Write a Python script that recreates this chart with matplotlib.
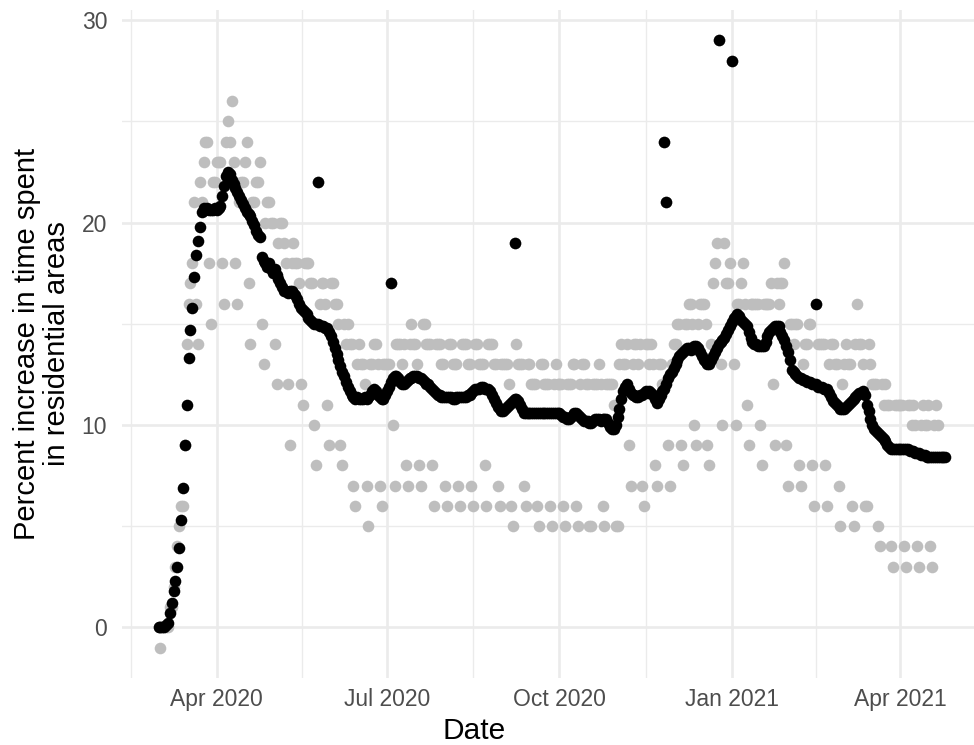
import datetime as dt
import matplotlib
matplotlib.use("Agg")
import matplotlib.pyplot as plt
import matplotlib.dates as mdates

# ---------------- data ----------------
start_date = dt.date(2020, 3, 1)

# daily raw values (grey), from 2020-03-01; weeks Mon..Sun
gray_pct = [
    0,
    -1, 0, 0, 0, 0, 1, 1,        # Mar 2
    2, 3, 4, 5, 6, 6, 9,         # Mar 9
    14, 16, 17, 18, 21, 16, 14,  # Mar 16
    22, 21, 23, 24, 24, 18, 15,  # Mar 23
    22, 22, 23, 23, 23, 18, 16,  # Mar 30
    24, 25, 24, 26, 23, 18, 16,  # Apr 6
    21, 22, 22, 23, 24, 17, 14,  # Apr 13
    21, 21, 22, 22, 23, 15, 13,  # Apr 20
    20, 21, 21, 20, 20, 14, 12,  # Apr 27
    19, 20, 20, 19, 18, 12, 9,   # May 4
    18, 19, 18, 18, 17, 12, 11,  # May 11
    18, 18, 18, 17, 17, 10, 8,   # May 18
    22, 16, 17, 17, 16, 11, 9,   # May 25
    17, 17, 16, 16, 15, 9, 8,    # Jun 1
    15, 14, 15, 14, 14, 7, 6,    # Jun 8
    13, 14, 13, 13, 12, 7, 5,    # Jun 15
    13, 13, 14, 14, 13, 7, 6,    # Jun 22
    13, 13, 13, 13, 17, 10, 7,   # Jun 29
    14, 14, 14, 13, 14, 8, 7,    # Jul 6
    14, 15, 14, 14, 13, 8, 7,    # Jul 13
    15, 15, 14, 14, 14, 8, 6,    # Jul 20
    14, 14, 14, 13, 13, 7, 6,    # Jul 27
    14, 14, 13, 13, 13, 7, 6,    # Aug 3
    14, 14, 14, 13, 13, 7, 6,    # Aug 10
    14, 14, 13, 13, 13, 8, 6,    # Aug 17
    14, 14, 14, 13, 13, 7, 6,    # Aug 24
    13, 13, 13, 13, 12, 6, 5,    # Aug 31
    19, 14, 13, 13, 13, 7, 6,    # Sep 7
    13, 13, 12, 12, 12, 6, 5,    # Sep 14
    13, 13, 12, 12, 12, 6, 5,    # Sep 21
    12, 13, 12, 12, 12, 6, 5,    # Sep 28
    12, 12, 12, 13, 13, 6, 5,    # Oct 5
    12, 13, 13, 12, 12, 5, 5,    # Oct 12
    12, 12, 12, 13, 12, 6, 5,    # Oct 19
    12, 12, 12, 12, 11, 5, 5,    # Oct 26
    13, 14, 13, 13, 14, 9, 7,    # Nov 2
    13, 14, 14, 13, 14, 7, 6,    # Nov 9
    14, 14, 13, 14, 13, 8, 7,    # Nov 16
    13, 13, 12, 24, 21, 9, 7,    # Nov 23
    13, 14, 14, 15, 15, 9, 8,    # Nov 30
    15, 15, 16, 16, 15, 10, 9,   # Dec 7
    15, 16, 16, 16, 15, 9, 8,    # Dec 14
    14, 17, 18, 19, 29, 13, 10,  # Dec 21
    19, 17, 17, 18, 28, 13, 10,  # Dec 28
    16, 16, 17, 18, 16, 11, 9,   # Jan 4
    16, 16, 16, 16, 16, 10, 8,   # Jan 11
    16, 16, 16, 16, 17, 12, 9,   # Jan 18
    17, 16, 17, 17, 18, 9, 7,    # Jan 25
    15, 15, 14, 15, 15, 8, 7,    # Feb 1
    13, 14, 14, 15, 15, 8, 6,    # Feb 8
    16, 14, 14, 14, 14, 8, 6,    # Feb 15
    13, 14, 14, 13, 13, 7, 5,    # Feb 22
    12, 13, 14, 13, 13, 6, 5,    # Mar 1
    14, 16, 14, 14, 13, 6, 6,    # Mar 8
    14, 13, 12, 12, 12, 5, 4,    # Mar 15
    12, 11, 12, 11, 11, 4, 3,    # Mar 22
    11, 11, 11, 11, 11, 4, 3,    # Mar 29
    11, 11, 10, 11, 10, 4, 3,    # Apr 5
    10, 11, 10, 10, 11, 4, 3,    # Apr 12
    10, 11, 10,                  # Apr 19
]

# smoothed series (black), from 2020-03-01
black_pct = [
    0.0,
    0.0, 0.0, 0.0, 0.1, 0.2, 0.7, 1.2,
    1.8, 2.3, 3.0, 3.9, 5.3, 6.9, 9.0,
    11.0, 13.3, 14.7, 15.8, 17.3, 18.4, 19.1,
    19.8, 20.5, 20.7, 20.6, 20.7, 20.6, 20.6,
    20.6, 20.7, 20.6, 20.7, 20.8, 21.3, 21.8,
    22.3, 22.5, 22.4, 22.1, 21.9, 21.7, 21.5,
    21.3, 21.1, 20.9, 20.7, 20.5, 20.4, 20.3,
    20.1, 19.9, 19.6, 19.4, 19.3, 18.3, 18.1,
    18.0, 17.8, 18.0, 17.7, 17.5, 17.7, 17.4,
    17.2, 17.0, 16.8, 16.6, 16.6, 16.5, 16.6,
    16.6, 16.5, 16.4, 16.2, 16.0, 15.8, 15.7,
    15.6, 15.5, 15.3, 15.2, 15.1, 15.0, 15.0,
    15.0, 14.9, 14.9, 14.9, 14.8, 14.8, 14.6,
    14.4, 14.1, 13.8, 13.5, 13.2, 12.9, 12.6,
    12.4, 12.1, 11.9, 11.7, 11.5, 11.4, 11.3,
    11.4, 11.3, 11.3, 11.3, 11.4, 11.3, 11.4,
    11.5, 11.7, 11.8, 11.7, 11.5, 11.4, 11.3,
    11.3, 11.5, 11.7, 11.9, 12.1, 12.3, 12.4,
    12.4, 12.3, 12.1, 12.0, 12.0, 12.1, 12.2,
    12.3, 12.3, 12.4, 12.4, 12.4, 12.3, 12.3,
    12.2, 12.1, 12.0, 12.0, 11.9, 11.8, 11.7,
    11.6, 11.5, 11.5, 11.4, 11.4, 11.4, 11.4,
    11.4, 11.4, 11.3, 11.3, 11.4, 11.4, 11.4,
    11.4, 11.4, 11.4, 11.5, 11.5, 11.6, 11.7,
    11.8, 11.8, 11.8, 11.9, 11.9, 11.8, 11.8,
    11.8, 11.7, 11.5, 11.3, 11.1, 10.9, 10.8,
    10.7, 10.7, 10.8, 10.9, 11.0, 11.1, 11.2,
    11.3, 11.3, 11.2, 11.0, 10.8, 10.6, 10.6,
    10.6, 10.6, 10.6, 10.6, 10.6, 10.6, 10.6,
    10.6, 10.6, 10.6, 10.6, 10.6, 10.6, 10.6,
    10.6, 10.6, 10.6, 10.6, 10.5, 10.4, 10.4,
    10.3, 10.3, 10.4, 10.5, 10.6, 10.6, 10.5,
    10.4, 10.3, 10.2, 10.2, 10.2, 10.1, 10.1,
    10.2, 10.3, 10.3, 10.3, 10.2, 10.3, 10.3,
    10.3, 10.1, 9.9, 9.8, 9.8, 10.0, 10.4,
    10.8, 11.3, 11.7, 11.9, 12.0, 11.8, 11.6,
    11.5, 11.5, 11.4, 11.4, 11.5, 11.5, 11.6,
    11.7, 11.6, 11.7, 11.6, 11.5, 11.3, 11.1,
    11.3, 11.5, 11.7, 11.8, 12.0, 12.3, 12.5,
    12.6, 12.8, 13.0, 13.2, 13.4, 13.5, 13.6,
    13.7, 13.8, 13.8, 13.7, 13.8, 13.9, 13.9,
    13.8, 13.6, 13.4, 13.2, 13.1, 13.0, 13.0,
    13.2, 13.4, 13.6, 13.8, 14.0, 14.1, 14.2,
    14.3, 14.5, 14.7, 14.9, 15.1, 15.3, 15.4,
    15.5, 15.4, 15.2, 15.1, 15.0, 14.9, 14.6,
    14.3, 14.1, 14.0, 14.0, 13.9, 13.9, 13.9,
    13.9, 14.1, 14.4, 14.6, 14.7, 14.8, 14.9,
    14.9, 14.9, 14.6, 14.4, 14.2, 13.9, 13.6,
    13.2, 12.7, 12.6, 12.5, 12.4, 12.3, 12.3,
    12.2, 12.2, 12.1, 12.1, 12.1, 12.0, 12.0,
    12.0, 11.9, 11.9, 11.9, 11.8, 11.8, 11.8,
    11.6, 11.4, 11.2, 11.1, 11.0, 10.9, 10.8,
    10.8, 10.8, 10.9, 11.0, 11.1, 11.2, 11.3,
    11.4, 11.5, 11.6, 11.6, 11.7, 11.5, 11.0,
    10.7, 10.3, 10.0, 9.8, 9.7, 9.6, 9.5,
    9.4, 9.3, 9.2, 9.0, 8.9, 8.8, 8.8,
    8.8, 8.8, 8.8, 8.8, 8.8, 8.8, 8.8,
    8.8, 8.7, 8.7, 8.7, 8.6, 8.6, 8.6,
    8.5, 8.5, 8.5, 8.4, 8.4, 8.4, 8.4,
    8.4, 8.4, 8.4, 8.4, 8.4, 8.4, 8.4,
]

# holidays shown as raw values in black
holiday_dates = ["2020-05-25", "2020-07-03", "2020-09-07", "2020-11-26",
                 "2020-11-27", "2020-12-25", "2021-01-01", "2021-02-15"]
holiday_pct = [22, 17, 19, 24, 21, 29, 28, 16]

tick_dates = ["2020-04-01", "2020-07-01", "2020-10-01", "2021-01-01", "2021-04-01"]
tick_labels = ["Apr 2020", "Jul 2020", "Oct 2020", "Jan 2021", "Apr 2021"]
y_ticks = [0, 10, 20, 30]

x_title = "Date"
y_title = "Percent increase in time spent\nin residential areas"

# ---------------- plot ----------------
plt.rcParams["font.family"] = ["Liberation Sans", "DejaVu Sans"]
plt.rcParams["savefig.bbox"] = None

W, H = 974, 745
fig = plt.figure(figsize=(W / 100, H / 100), dpi=100)
left, right, top, bottom = 121.7, 974, 10, 678
ax = fig.add_axes([left / W, (H - bottom) / H, (right - left) / W, (bottom - top) / H])

def d2n(s):
    return mdates.date2num(dt.date.fromisoformat(s))

gray_x = [mdates.date2num(start_date + dt.timedelta(days=i)) for i in range(len(gray_pct))]
black_x = [mdates.date2num(start_date + dt.timedelta(days=i)) for i in range(len(black_pct))]
hol_x = [d2n(s) for s in holiday_dates]

dot = 70
ax.scatter(gray_x, gray_pct, s=dot, c="#BEBEBE", linewidths=0, zorder=2)
ax.scatter(black_x, black_pct, s=dot, c="black", linewidths=0, zorder=3)
ax.scatter(hol_x, holiday_pct, s=dot, c="black", linewidths=0, zorder=3)

major_x = [d2n(s) for s in tick_dates]
all_major = [d2n("2020-01-01")] + major_x + [d2n("2021-07-01")]
minor_x = [(a + b) / 2 for a, b in zip(all_major[:-1], all_major[1:])]
ax.set_xticks(major_x)
ax.set_xticklabels(tick_labels)
ax.set_xticks(minor_x, minor=True)
ax.set_yticks(y_ticks)
ax.set_yticks([5, 15, 25], minor=True)

# limits set after the ticks so that tick setting cannot widen them
apr1 = d2n("2020-04-01")
ax.set_xlim(apr1 - 50.7, apr1 + 404.3)
ax.set_ylim(-2.5, 30.5)

ax.grid(which="major", color="#EBEBEB", linewidth=1.9, zorder=0)
ax.grid(which="minor", color="#EBEBEB", linewidth=1.0, zorder=0)
ax.set_axisbelow(True)
for sp in ax.spines.values():
    sp.set_visible(False)

ax.tick_params(axis="both", which="both", length=0)
ax.tick_params(axis="x", which="major", labelsize=16.5, labelcolor="#4D4D4D", pad=7.5)
ax.tick_params(axis="y", which="major", labelsize=16.5, labelcolor="#4D4D4D", pad=10.5)

fig.text(474 / W, (H - 739) / H, x_title, ha="center", va="baseline", fontsize=21.5, color="black")
fig.text(42 / W, (H - 344) / H, y_title, ha="center", va="center", rotation=90,
         multialignment="center", fontsize=21, linespacing=1.1, color="black")

fig.savefig("out.png", dpi=100, facecolor="white", bbox_inches=None)
